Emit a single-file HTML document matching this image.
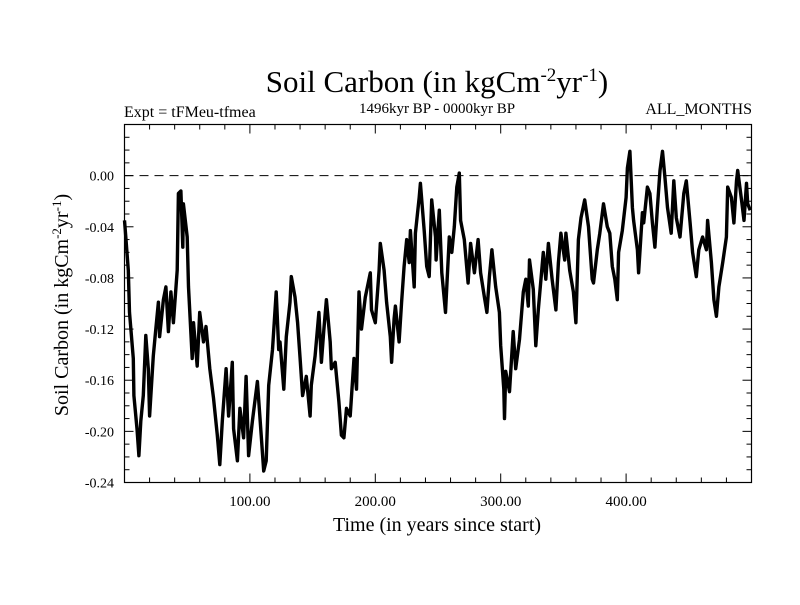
<!DOCTYPE html>
<html><head><meta charset="utf-8"><style>
body{margin:0;background:#fff}
svg text{font-family:"Liberation Serif",serif;fill:#000}
</style></head><body>
<svg id="chart" width="800" height="600" viewBox="0 0 800 600" xmlns="http://www.w3.org/2000/svg">
<rect width="800" height="600" fill="#fff"/>
<text x="437" y="92" font-size="31" text-anchor="middle">Soil Carbon (in kgCm<tspan dy="-11" font-size="19">-2</tspan><tspan dy="11">yr</tspan><tspan dy="-11" font-size="19">-1</tspan><tspan dy="11">)</tspan></text>
<text x="124" y="117" font-size="16">Expt = tFMeu-tfmea</text>
<text x="437" y="113" font-size="15" text-anchor="middle">1496kyr BP - 0000kyr BP</text>
<text x="752" y="114" font-size="16" text-anchor="end">ALL_MONTHS</text>
<text x="437" y="531" font-size="20" text-anchor="middle">Time (in years since start)</text>
<text transform="translate(68,305) rotate(-90)" font-size="20" text-anchor="middle">Soil Carbon (in kgCm<tspan dy="-7" font-size="13">-2</tspan><tspan dy="7">yr</tspan><tspan dy="-7" font-size="13">-1</tspan><tspan dy="7">)</tspan></text>
<g id="axes"></g>
<g id="series"></g>
</svg>
<script>
const years=[0,1,3,4,7,7.5,10,11.5,13,15,17,19,20,23,25,27,28,31,33,35,37,39,42,43,45,46.5,47,50,51,54,55,58,60,63,65,68,71,74,76,78,81,83,86,87,90,92,95,97,99,102,106,109,111,113,115,118,121,123,124,127,129,132,133,136,138,140,142,145,148,149,152,155,157,159,161,164,165,168,171,173,175,177,180,183,185,187,189,192,196,197,200,203,204,207,209,212,213,215,216,219,221,223,225,227,228,231,232,235,236,239,241,243,245,248,248.5,251,253,256,259,261,263,265,267,268,271,274,276,279,282,284,287,289,291,293,296,299,300,302.5,303,304,307,310,312,315,318,320,322,323,326,328,330,334,336,338,341,344,346,348,351,352,355,358,360,362,364,367,370,373,374,377,379,382,385,387,389,391,393,394,397,400,401,403,405,406,409,410,413,414,417,419,421,423,425,427,429,431,433,436,438,440,443,446,448,451,453,456,458,461,464,465,468,470,472,474,477,480,481,484,486,488,489,492,494,496,497,499];
const soilCarbon=[-0.035,-0.048,-0.074,-0.107,-0.143,-0.172,-0.198,-0.219,-0.192,-0.172,-0.125,-0.151,-0.188,-0.141,-0.120,-0.099,-0.126,-0.097,-0.087,-0.122,-0.091,-0.115,-0.074,-0.014,-0.012,-0.056,-0.022,-0.048,-0.087,-0.143,-0.115,-0.149,-0.107,-0.130,-0.118,-0.151,-0.174,-0.203,-0.226,-0.192,-0.151,-0.188,-0.146,-0.198,-0.223,-0.182,-0.205,-0.157,-0.219,-0.192,-0.161,-0.203,-0.231,-0.223,-0.164,-0.136,-0.091,-0.136,-0.130,-0.167,-0.126,-0.099,-0.079,-0.095,-0.115,-0.143,-0.172,-0.157,-0.188,-0.164,-0.141,-0.107,-0.146,-0.120,-0.097,-0.130,-0.151,-0.146,-0.177,-0.203,-0.205,-0.182,-0.188,-0.143,-0.167,-0.091,-0.120,-0.095,-0.076,-0.105,-0.115,-0.074,-0.053,-0.074,-0.099,-0.126,-0.146,-0.112,-0.102,-0.130,-0.099,-0.071,-0.050,-0.068,-0.043,-0.087,-0.045,-0.017,-0.006,-0.043,-0.071,-0.079,-0.019,-0.048,-0.066,-0.027,-0.076,-0.107,-0.048,-0.060,-0.040,-0.009,0.002,-0.035,-0.050,-0.084,-0.053,-0.076,-0.050,-0.076,-0.095,-0.107,-0.079,-0.058,-0.087,-0.107,-0.133,-0.167,-0.190,-0.153,-0.169,-0.122,-0.151,-0.128,-0.091,-0.081,-0.102,-0.066,-0.089,-0.133,-0.105,-0.060,-0.081,-0.053,-0.081,-0.105,-0.068,-0.045,-0.066,-0.045,-0.074,-0.091,-0.115,-0.050,-0.033,-0.019,-0.040,-0.081,-0.084,-0.058,-0.045,-0.022,-0.040,-0.045,-0.071,-0.081,-0.097,-0.060,-0.043,-0.017,0.006,0.019,-0.025,-0.035,-0.058,-0.076,-0.029,-0.037,-0.009,-0.014,-0.037,-0.056,-0.025,0.004,0.019,-0.002,-0.025,-0.045,-0.004,-0.033,-0.048,-0.014,-0.004,-0.037,-0.060,-0.079,-0.058,-0.048,-0.058,-0.035,-0.068,-0.097,-0.110,-0.087,-0.068,-0.048,-0.009,-0.017,-0.037,-0.004,0.004,-0.019,-0.035,-0.006,-0.022,-0.027];
const xTickValues=[100,200,300,400];
const xTickLabels=["100.00","200.00","300.00","400.00"];
const yTickValues=[0,-0.04,-0.08,-0.12,-0.16,-0.2,-0.24];
const yTickLabels=["0.00","-0.04","-0.08","-0.12","-0.16","-0.20","-0.24"];

const L=124.5,R=751.5,T=124.5,B=482.5;
const xMin=0,xMax=500,yMin=-0.24,yMax=0.04;
const xs=v=>L+(v-xMin)/(xMax-xMin)*(R-L);
const ys=v=>B-(v-yMin)/(yMax-yMin)*(B-T);
const NS="http://www.w3.org/2000/svg";
const axes=document.getElementById('axes');
function mk(tag,attrs,parent){const e=document.createElementNS(NS,tag);for(const k in attrs)e.setAttribute(k,attrs[k]);parent.appendChild(e);return e;}

const frame=mk('rect',{x:L,y:T,width:R-L,height:B-T,fill:'none',stroke:'#000','stroke-width':1.2},axes);



const zero=mk('line',{x1:L,x2:R,y1:ys(0),y2:ys(0),stroke:'#000','stroke-width':1,'stroke-dasharray':'9,6'},axes);



for(let v=20;v<500;v+=20){
  const major=(v%100===0);const len=major?9:5;const x=xs(v);
  const t1=mk('line',{x1:x,x2:x,y1:B,y2:B-len,stroke:'#000','stroke-width':1},axes);
  
  
  const t2=mk('line',{x1:x,x2:x,y1:T,y2:T+len,stroke:'#000','stroke-width':1},axes);
  
  
}
xTickValues.forEach((v,i)=>{
  const t=mk('text',{x:xs(v),y:506,'font-size':15,'text-anchor':'middle'},axes);
  t.textContent=xTickLabels[i];
  
  
});
for(let k=-23;k<=3;k++){
  const v=k/100;const major=(k%4===0);const len=major?9:5;const y=ys(v);
  const t1=mk('line',{x1:L,x2:L+len,y1:y,y2:y,stroke:'#000','stroke-width':1},axes);
  
  
  const t2=mk('line',{x1:R,x2:R-len,y1:y,y2:y,stroke:'#000','stroke-width':1},axes);
  
  
}
yTickValues.forEach((v,i)=>{
  const t=mk('text',{x:114,y:ys(v)+5,'font-size':14,'text-anchor':'end'},axes);
  t.textContent=yTickLabels[i];
  
  
});

const d=years.map((yr,i)=>(i?'L':'M')+xs(yr).toFixed(1)+','+ys(soilCarbon[i]).toFixed(1)).join('');
const line=mk('path',{d:d,fill:'none',stroke:'#000','stroke-width':3.4,'stroke-linejoin':'round'},document.getElementById('series'));


</script>
</body></html>
